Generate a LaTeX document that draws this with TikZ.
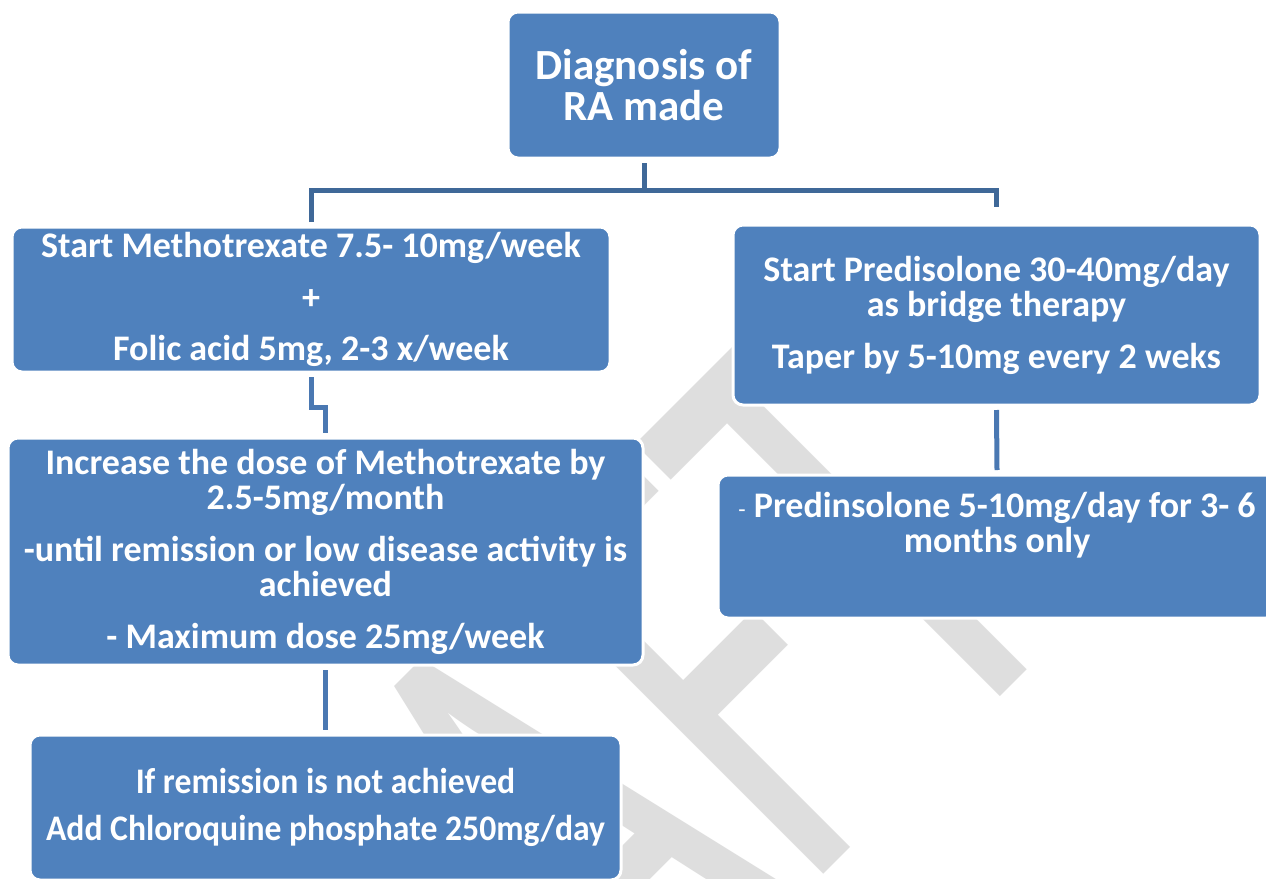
\documentclass[tikz,border=0pt]{standalone}
\usepackage{fontspec}
\setmainfont{Carlito}
\newfontfamily\wmfont{Carlito}
\definecolor{boxblue}{HTML}{4F81BD}
\definecolor{treeblue}{HTML}{3F6898}
\definecolor{linkblue}{HTML}{4A78B2}
\definecolor{wmgray}{HTML}{DEDEDE}
\newcommand\boxtxt{\fontsize{36}{35.5}\selectfont\bfseries}
\newcommand\bigtxt{\fontsize{43}{41}\selectfont\bfseries}
\newcommand\tightline[1]{\scalebox{0.935}[1]{#1}}
\begin{document}
\begin{tikzpicture}[x=1pt,y=-1pt,
  box/.style={rectangle, rounded corners=10pt, fill=boxblue, draw=white,
    line width=3pt, text=white, align=center, inner sep=0pt, outer sep=5pt,
    font=\boxtxt},
  boxtext/.style={text=white, align=center, inner sep=0pt, font=\boxtxt},
  treeline/.style={draw=treeblue, line width=5pt},
  link/.style={draw=linkblue, line width=5pt}]
\useasboundingbox (0,0) rectangle (1266,878);
\begin{scope}
\clip (0,0) rectangle (1266,878);
\fill[white] (0,0) rectangle (1266,878);
% watermark behind the boxes
\node[rotate=45, anchor=base west, inner sep=0pt, outer sep=0pt, text=wmgray,
  font=\wmfont\fontsize{680}{680}\selectfont] (wm) at (281,1416)
  {\scalebox{0.625}[1]{DRAFT}};

% boxes
\node[box, font=\bigtxt, minimum width=272pt, minimum height=146pt] (diag) at (644,85)
  {Diagnosis of\\RA made};
\node[box, minimum width=598pt, minimum height=145pt] (mtx) at (311,299.5)
  {Start Methotrexate 7.5- 10mg/week\\[16pt]+\\[16pt]Folic acid 5mg, 2-3 x/week};
\node[box, minimum width=635pt, minimum height=227pt] (inc) at (325.5,551.5)
  {Increase the dose of Methotrexate by\\2.5-5mg/month\\[16pt]-until remission or low disease activity is\\achieved\\[16pt]- Maximum dose 25mg/week};
\node[box, minimum width=591pt, minimum height=145pt] (chl) at (325.5,807.5)
  {\tightline{If remission is not achieved}\\[11pt]\tightline{Add Chloroquine phosphate 250mg/day}};
\node[box, minimum width=527pt, minimum height=180pt] (pred) at (996.5,315)
  {Start Predisolone 30-40mg/day\\as bridge therapy\\[16pt]Taper by 5-10mg every 2 weks};
\node[box, minimum width=558pt, minimum height=143pt] (pred2) at (997,546.5) {};
\node[boxtext] (pred2txt) at (997,525)
  {{\mdseries\fontsize{24}{24}\selectfont -} Predinsolone 5-10mg/day for 3- 6\\months only};

% connectors
\coordinate (fork) at (644,190);
\draw[treeline] (diag.south) -- (fork);
\draw[treeline] (mtx.north) |- (fork) -| ([yshift=13pt]pred.north);
\draw[link] (mtx.south) -- ++(0,30) -| (inc.north);
\draw[link] (inc.south) -- (chl.north);
\draw[link] (pred.south) -- (pred2.north);
\end{scope}
\end{tikzpicture}
\end{document}
